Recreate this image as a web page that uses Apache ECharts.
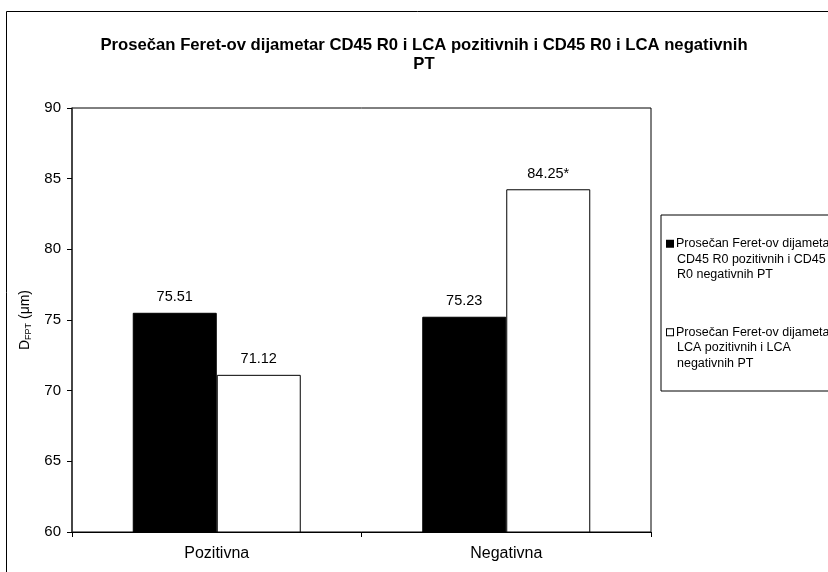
<!DOCTYPE html>
<html>
<head>
<meta charset="utf-8">
<script src="https://cdn.jsdelivr.net/npm/echarts@6/dist/echarts.min.js"></script>
<style>html,body{margin:0;padding:0;background:#fff}#c{width:828px;height:572px}</style>
</head>
<body>
<div id="c"></div>
<script>
const categories = ['Pozitivna', 'Negativna'];
const seriesNames = [
  'Prosečan Feret-ov dijametar CD45 R0 pozitivnih i CD45 R0 negativnih PT',
  'Prosečan Feret-ov dijametar LCA pozitivnih i LCA negativnih PT'
];
const legendLines = [
  ['Prosečan Feret-ov dijametar', 'CD45 R0 pozitivnih i CD45', 'R0 negativnih PT'],
  ['Prosečan Feret-ov dijametar', 'LCA pozitivnih i LCA', 'negativnih PT']
];
const cd45Values = [75.51, 75.23];
const lcaValues = [71.12, 84.25];
const lcaMarks = ['', '*'];
const yTicks = [60, 65, 70, 75, 80, 85, 90];

const FONT = 'Liberation Sans, Arial, sans-serif';
const chart = echarts.init(document.getElementById('c'), null, {renderer: 'canvas'});

const legendFormatter = function (name) {
  const idx = seriesNames.indexOf(name);
  const lines = legendLines[idx];
  const box = idx === 0 ? 'b0' : 'b1';
  return '{' + box + '|}{gap|}{t|' + lines[0] + '}\n' +
    lines.slice(1).map(l => '{sp|}{t|' + l + '}').join('\n');
};

chart.setOption({
  animation: false,
  backgroundColor: '#fff',
  textStyle: {fontFamily: FONT},
  title: {
    text: 'Prosečan Feret-ov dijametar CD45 R0 i LCA pozitivnih i CD45 R0 i LCA negativnih\nPT',
    left: 419, top: 31, textAlign: 'center',
    textStyle: {fontFamily: FONT, fontSize: 16.7, fontWeight: 'bold', color: '#000', lineHeight: 19}
  },
  graphic: [{
    type: 'rect', silent: true,
    shape: {x: 6.5, y: 11.5, width: 900, height: 700},
    style: {fill: 'none', stroke: '#000', lineWidth: 1}
  }],
  legend: {
    orient: 'vertical', left: 661, top: 215,
    padding: [21, 4, 20, 0], itemGap: 42,
    borderColor: '#000', borderWidth: 1,
    itemWidth: 0, itemHeight: 0, icon: 'rect',
    selectedMode: false,
    data: seriesNames,
    formatter: legendFormatter,
    textStyle: {
      fontFamily: FONT, fontSize: 12.5, color: '#000', lineHeight: 15.5,
      rich: {
        t: {fontFamily: FONT, fontSize: 12.5, color: '#000', lineHeight: 15.5},
        sp: {width: 10},
        gap: {width: 3},
        b0: {width: 6, height: 6, backgroundColor: '#000', borderColor: '#000', borderWidth: 1, padding: 0},
        b1: {width: 6, height: 6, backgroundColor: '#fff', borderColor: '#000', borderWidth: 1, padding: 0}
      }
    }
  },
  grid: {
    left: 72, right: 177, top: 108, bottom: 40,
    show: true, borderColor: '#000', borderWidth: 1, backgroundColor: '#fff'
  },
  xAxis: {
    type: 'category', data: categories,
    axisLine: {lineStyle: {color: '#000', width: 1}},
    axisTick: {show: true, alignWithLabel: false, length: 5, lineStyle: {color: '#000'}},
    axisLabel: {fontFamily: FONT, fontSize: 16, color: '#000', margin: 14},
    splitLine: {show: false}
  },
  yAxis: {
    type: 'value', min: yTicks[0], max: yTicks[yTicks.length - 1], interval: 5,
    name: 'D{sub|FPT} (μm)', nameLocation: 'middle', nameRotate: 90, nameGap: 35,
    nameTextStyle: {
      fontFamily: FONT, fontSize: 14, color: '#000',
      rich: {sub: {fontFamily: FONT, fontSize: 9, color: '#000', verticalAlign: 'bottom', padding: [7, 0, 0, 0]}}
    },
    axisLine: {show: true, lineStyle: {color: '#333', width: 1.5}},
    axisTick: {show: true, length: 5, lineStyle: {color: '#000'}},
    axisLabel: {fontFamily: FONT, fontSize: 15, color: '#000', margin: 11},
    splitLine: {show: false}
  },
  series: [
    {
      name: seriesNames[0], type: 'bar', data: cd45Values,
      barWidth: 84, barGap: '0%',
      itemStyle: {color: '#000', borderColor: '#000', borderWidth: 1},
      label: {show: true, position: 'top', distance: 8, fontFamily: FONT, fontSize: 14.5, color: '#000',
        formatter: p => p.value.toFixed(2)}
    },
    {
      name: seriesNames[1], type: 'bar', data: lcaValues,
      barWidth: 84, barGap: '0%',
      itemStyle: {color: '#fff', borderColor: '#000', borderWidth: 1},
      label: {show: true, position: 'top', distance: 8, fontFamily: FONT, fontSize: 14.5, color: '#000',
        formatter: p => p.value.toFixed(2) + lcaMarks[p.dataIndex]}
    }
  ]
});
</script>
</body>
</html>
